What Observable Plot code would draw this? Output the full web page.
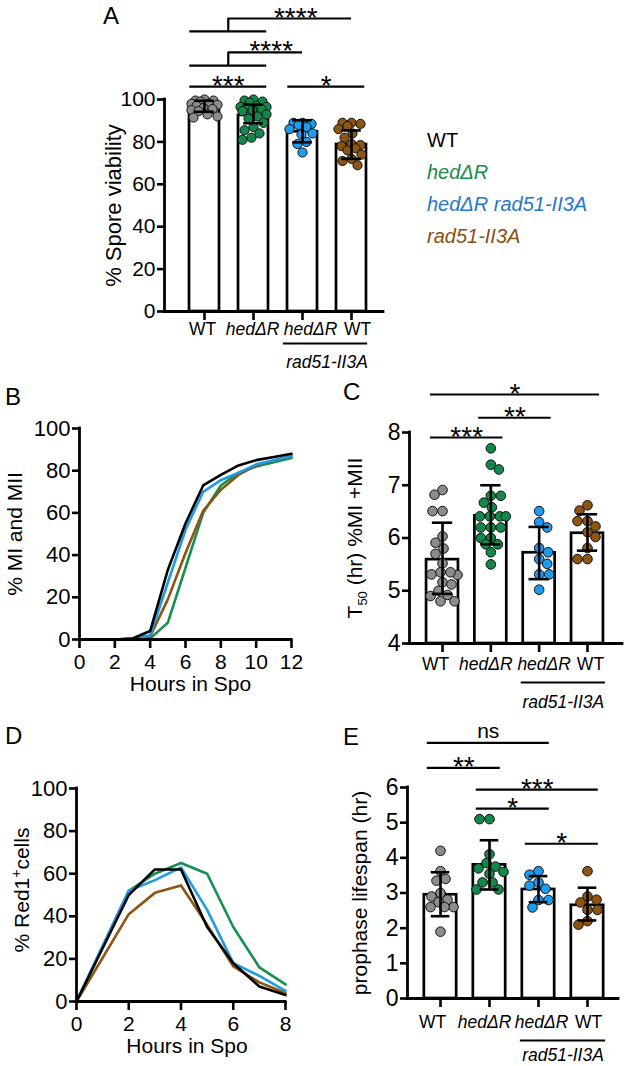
<!DOCTYPE html>
<html><head><meta charset="utf-8">
<script src="https://cdn.jsdelivr.net/npm/d3@7"></script>
<script src="https://cdn.jsdelivr.net/npm/@observablehq/plot@0.6"></script>
<style>
body{margin:0;background:#fff;}
#fig{position:relative;width:625px;height:1066px;font-family:"Liberation Sans",Arial,sans-serif;color:#000;overflow:hidden;}
.panel{position:absolute;}
.panel svg{background:transparent;overflow:visible;}
.plab{position:absolute;font-size:24px;line-height:24px;}
#legend{position:absolute;left:427px;top:124px;font-size:20px;line-height:32px;white-space:nowrap;}
#legend .it{font-style:italic;}
</style></head><body><div id="fig"></div>
<script>
// ---------------- data ----------------
const strains = ["WT", "hedΔR", "hedΔR rad51-II3A", "rad51-II3A"];
const legendItalic = [false, true, true, true];
const dotColors = ["#8c8c8c", "#12894a", "#1c9cf0", "#8e5510"];
const legendColors = ["#000000", "#1b8a4c", "#1f78c8", "#8a4f12"];
const lineColors = ["#000000", "#169050", "#1f9ae6", "#8b5512"];
const tickLabels = ["WT", "hedΔR", "hedΔR", "WT"];
const tickItalic = [false, true, true, false];
const subLabel = "rad51-II3A";

// A: spore viability
const viabWT = [100, 99.5, 99.5, 99, 98, 98, 97.5, 97, 96, 95.5, 95, 94.5, 93, 92, 91.5];
const viabHed = [100, 99.5, 99, 98.5, 97, 96.5, 96.5, 96, 95.5, 95, 94.5, 93, 92, 91, 89, 87, 85.5, 84, 82, 81];
const viabHedRad = [89, 89, 88.5, 88, 87, 86, 84, 83.5, 80, 79, 75];
const viabRad = [89, 89, 88.5, 87.5, 86, 84, 82, 79, 78.5, 78, 77, 76, 74, 72, 71, 69];
const viabMean = [96.8, 92.5, 84.8, 78.8];
const viabLo = [94.2, 88.8, 79.8, 72.0];
const viabHi = [99.4, 97.6, 90.2, 85.4];
const viabTicks = [0, 20, 40, 60, 80, 100];
const viabLabel = "% Spore viability";
const sigA = [
  {a: 0, b: 1, label: "***"},
  {a: 2, b: 3, label: "*"},
  {group: [0, 1], to: 2, label: "****"},
  {group: [0, 1], to: 3, label: "****"}
];

// B: % MI and MII
const hoursB = [0, 1, 2, 3, 4, 5, 6, 7, 8, 9, 10, 11, 12];
const miWT = [0, 0, 0, 0.5, 4, 33, 55, 73, 78, 82.5, 85, 86.5, 88];
const miHed = [0, 0, 0, 0, 0.5, 8, 34, 60, 73, 79, 82, 84, 86];
const miHedRad = [0, 0, 0, 0.3, 2, 27, 52, 70, 75.5, 79, 83, 85, 87];
const miRad = [0, 0, 0, 0.5, 1.5, 19, 41, 61, 71, 78, 82.5, 85, 87];
const hoursBTicks = [0, 2, 4, 6, 8, 10, 12];
const pctTicks = [0, 20, 40, 60, 80, 100];
const miLabel = "% MI and MII";
const hoursLabel = "Hours in Spo";

// C: T50
const t50WT = [6.91, 6.82, 6.51, 6.51, 6.03, 5.91, 5.8, 5.7, 5.52, 5.31, 5.3, 5.35, 5.35, 5.16, 5.12, 5.0, 4.92, 4.9, 4.8, 4.8];
const t50Hed = [7.7, 7.39, 7.3, 6.8, 6.8, 6.67, 6.58, 6.41, 6.41, 6.41, 6.41, 6.2, 6.2, 6.2, 6.0, 6.0, 5.88, 5.88, 5.73, 5.5];
const t50HedRad = [6.51, 6.3, 6.2, 5.81, 5.73, 5.6, 5.51, 5.31, 5.31, 5.02];
const t50Rad = [6.62, 6.52, 6.32, 6.32, 6.22, 6.11, 6.02, 5.81, 5.6, 5.6];
const t50Mean = [5.59, 6.42, 5.72, 6.09];
const t50Lo = [4.94, 5.88, 5.22, 5.76];
const t50Hi = [6.29, 7.0, 6.21, 6.45];
const t50Ticks = [4, 5, 6, 7, 8];
const t50Label = "T50 (hr) %MI +MII";
const sigC = [
  {a: 0, b: 3, label: "*"},
  {a: 1, b: 2, label: "**"},
  {a: 0, b: 1, label: "***"}
];

// D: % Red1+ cells
const hoursD = [0, 2, 3, 4, 5, 6, 7, 8];
const redWT = [0, 50, 62, 62, 35, 18, 7, 3];
const redHed = [0, 52, 60, 65, 60, 35, 16, 8];
const redHedRad = [0, 52, 57, 63, 43, 18, 12, 5];
const redRad = [0, 41, 51, 54.5, 36, 16.5, 9, 4];
const hoursDTicks = [0, 2, 4, 6, 8];
const redLabel = "% Red1+cells";

// E: prophase lifespan
const lifeWT = [4.2, 3.62, 3.4, 3.35, 3.0, 2.9, 2.81, 2.74, 2.6, 2.6, 2.6, 1.9];
const lifeHed = [5.1, 5.1, 4.1, 3.85, 3.75, 3.7, 3.6, 3.55, 3.3, 3.3, 3.1, 3.1];
const lifeHedRad = [3.62, 3.52, 3.3, 3.21, 3.12, 2.8, 2.8, 2.59];
const lifeRad = [3.62, 2.9, 2.81, 2.73, 2.52, 2.52, 2.2, 2.1];
const lifeMean = [2.95, 3.8, 3.1, 2.65];
const lifeLo = [2.34, 3.1, 2.74, 2.22];
const lifeHi = [3.59, 4.5, 3.48, 3.15];
const lifeTicks = [0, 1, 2, 3, 4, 5, 6];
const lifeLabel = "prophase lifespan (hr)";
const sigE = [
  {a: 0, b: 2, label: "ns"},
  {a: 0, b: 1, label: "**"},
  {a: 1, b: 3, label: "***"},
  {a: 1, b: 2, label: "*"},
  {a: 2, b: 3, label: "*"}
];

// ---------------- layout ----------------
const FONT = "Liberation Sans, Arial, Helvetica, sans-serif";
const fig = document.getElementById("fig");
const intFmt = d3.format("d");

function place(el, left, top) {
  const d = document.createElement("div");
  d.className = "panel";
  d.style.left = left + "px"; d.style.top = top + "px";
  d.appendChild(el); fig.appendChild(d);
}

function swarm(values, yPix, r, maxW) {
  const order = values.map((v, i) => i).sort((a, b) => values[b] - values[a]);
  const placed = [], off = new Array(values.length);
  order.forEach((i, n) => {
    const py = yPix(values[i]);
    const cands = [0];
    for (let k = 1; k <= maxW; k++) { if (n % 2) cands.push(-k, k); else cands.push(k, -k); }
    let chosen = null, best = 0, bestScore = -1;
    for (const c of cands) {
      let md = Infinity;
      for (const p of placed) { const d = Math.hypot(p.x - c, p.y - py); if (d < md) md = d; }
      if (md >= 2 * r * 0.95) { chosen = c; break; }
      if (md > bestScore) { bestScore = md; best = c; }
    }
    if (chosen === null) chosen = best;
    placed.push({x: chosen, y: py}); off[i] = chosen;
  });
  return off;
}

function rebuild(t, parts) {
  t.textContent = "";
  parts.forEach(([s, dy, fs]) => {
    const ts = document.createElementNS("http://www.w3.org/2000/svg", "tspan");
    ts.textContent = s; if (dy) ts.setAttribute("dy", dy); if (fs) ts.setAttribute("font-size", fs);
    t.appendChild(ts);
  });
}
function fixSupSub(svg) {
  svg.querySelectorAll("text").forEach(t => {
    if (t.textContent === t50Label) rebuild(t, [["T", 0, null], ["50", 5, "13px"], [" (hr) %MI +MII", -5, null]]);
    else if (t.textContent === redLabel) rebuild(t, [["% Red1", 0, null], ["+", -8, "14px"], ["cells", 8, null]]);
  });
}

function barPanel(c) {
  const yPix = d3.scaleLinear().domain(c.yDomain).range([c.height - c.mB, c.mT]);
  const xPix = d3.scaleLinear().domain(c.xDomain).range([c.mL, c.width - c.mR]);
  const step = xPix(1) - xPix(0);
  const ymin = c.yDomain[0];
  const rows = [];
  c.dots.forEach((arr, g) => {
    const off = swarm(arr, yPix, c.r, c.maxW);
    arr.forEach((v, j) => rows.push({g, v, x: g + off[j] / step, fill: dotColors[g]}));
  });
  const bars = strains.map((s, i) => ({i, m: c.mean[i], lo: c.lo[i], hi: c.hi[i]}));
  const lines = [], verts = [], labels = [];
  c.sig.forEach((s, k) => {
    const lv = c.levels[k];
    if (s.group) {
      const x1 = s.group[0] + c.sigL, x2 = s.group[s.group.length - 1] + c.sigR;
      const vx = (x1 + x2) / 2;
      lines.push({x1, x2, y: lv[0]});
      verts.push({x: vx, y1: lv[0], y2: lv[1]});
      lines.push({x1: vx, x2: s.to, y: lv[1]});
      labels.push({x: (vx + s.to) / 2 + c.groupLabelDx, y: lv[1], label: s.label});
    } else {
      const x1 = s.a + c.sigL, x2 = s.b + c.sigR;
      lines.push({x1, x2, y: lv});
      labels.push({x: (x1 + x2) / 2, y: lv, label: s.label});
    }
  });
  const tl = tickLabels.map((t, i) => ({i, x: i + c.labelShift[i] / step, t, it: tickItalic[i]}));
  const plot = Plot.plot({
    width: c.width, height: c.height,
    marginLeft: c.mL, marginRight: c.mR, marginTop: c.mT, marginBottom: c.mB,
    x: {type: "linear", domain: c.xDomain},
    y: {domain: c.yDomain},
    color: {type: "identity"},
    style: {fontFamily: FONT, color: "#000", background: "transparent", overflow: "visible"},
    marks: [
      Plot.rect(bars, {x1: d => d.i - c.bw, x2: d => d.i + c.bw, y1: ymin, y2: "m", fill: "white", stroke: "black", strokeWidth: 2.7}),
      Plot.dot(rows, {x: "x", y: "v", r: c.r, fill: "fill", stroke: "#111", strokeWidth: 1}),
      Plot.ruleX(bars, {x: "i", y1: "lo", y2: "hi", stroke: "black", strokeWidth: 2.6}),
      Plot.ruleY(bars, {y: "hi", x1: d => d.i - c.cw, x2: d => d.i + c.cw, stroke: "black", strokeWidth: 2.6}),
      Plot.ruleY(bars, {y: "lo", x1: d => d.i - c.cw, x2: d => d.i + c.cw, stroke: "black", strokeWidth: 2.6}),
      Plot.ruleX([c.xDomain[0]], {y1: c.yDomain[0], y2: c.yDomain[1], stroke: "black", strokeWidth: 2.8, strokeLinecap: "square"}),
      Plot.ruleY([ymin], {stroke: "black", strokeWidth: 2.8, strokeLinecap: "square"}),
      Plot.axisY({ticks: c.yTicks, tickFormat: intFmt, tickSize: 7, tickPadding: 2, fontSize: c.tickFs, strokeWidth: 2.6, label: null}),
      Plot.axisX({ticks: [0, 1, 2, 3], tickSize: 9, tickFormat: () => "", strokeWidth: 2.6, label: null}),
      Plot.text(tl.filter(d => !d.it), {x: "x", y: ymin, text: "t", dy: c.tickDy, lineAnchor: "top", fontSize: 17.5}),
      Plot.text(tl.filter(d => d.it), {x: "x", y: ymin, text: "t", dy: c.tickDy, lineAnchor: "top", fontSize: 17.5, fontStyle: "italic"}),
      Plot.ruleY([ymin], {x1: 2 + c.underL, x2: 3 + c.underR, dy: c.underDy, stroke: "black", strokeWidth: 2}),
      Plot.text([subLabel], {x: 2.5 + c.subShift / step, y: ymin, dy: c.subDy, lineAnchor: "top", fontSize: 17.5, fontStyle: "italic"}),
      Plot.ruleY(lines, {x1: "x1", x2: "x2", y: "y", stroke: "black", strokeWidth: 2.2}),
      Plot.ruleX(verts, {x: "x", y1: "y1", y2: "y2", stroke: "black", strokeWidth: 2.2}),
      Plot.text(labels.filter(d => d.label !== "ns"), {x: "x", y: "y", text: "label", lineAnchor: "bottom", dy: 8, fontSize: 28}),
      Plot.text(labels.filter(d => d.label === "ns"), {x: "x", y: "y", text: "label", lineAnchor: "bottom", dy: -5, fontSize: 21}),
      Plot.text([c.ylabel], {frameAnchor: "left", rotate: -90, dx: c.ylabelDx, dy: c.ylabelDy || 0, fontSize: c.ylabelFs, textAnchor: "middle"})
    ]
  });
  fixSupSub(plot);
  place(plot, c.left, c.top);
}

function linePanel(c) {
  const rows = [];
  c.series.forEach((arr, g) => arr.forEach((v, j) => rows.push({g, h: c.hours[j], v, stroke: lineColors[g]})));
  const plot = Plot.plot({
    width: c.width, height: c.height,
    marginLeft: c.mL, marginRight: c.mR, marginTop: c.mT, marginBottom: c.mB,
    x: {domain: c.xDomain},
    y: {domain: [0, 100]},
    color: {type: "identity"},
    style: {fontFamily: FONT, color: "#000", background: "transparent", overflow: "visible"},
    marks: [
      ...c.order.map(g => Plot.line(rows.filter(d => d.g === g), {x: "h", y: "v", stroke: "stroke", strokeWidth: 2.6})),
      Plot.ruleX([c.xDomain[0]], {stroke: "black", strokeWidth: 2.8, strokeLinecap: "square"}),
      Plot.ruleY([0], {stroke: "black", strokeWidth: 2.8, strokeLinecap: "square"}),
      Plot.axisY({ticks: pctTicks, tickFormat: intFmt, tickSize: 7, tickPadding: 2, fontSize: 22, strokeWidth: 2.6, label: null}),
      Plot.axisX({ticks: c.xTicks, tickFormat: intFmt, tickSize: 9, tickPadding: 6, fontSize: 21, strokeWidth: 2.6, label: null}),
      Plot.text([hoursLabel], {frameAnchor: "bottom", dy: c.xlabelDy, dx: c.xlabelDx, fontSize: 21}),
      Plot.text([c.ylabel], {frameAnchor: "left", rotate: -90, dx: c.ylabelDx, dy: c.ylabelDy || 0, fontSize: 21, textAnchor: "middle"})
    ]
  });
  fixSupSub(plot);
  place(plot, c.left, c.top);
}

// Panel A
barPanel({
  left: 90, top: 0, width: 300, height: 370, mL: 74, mR: 7, mT: 99, mB: 59,
  xDomain: [-40 / 49, 3 + 32 / 49], yDomain: [0, 100], yTicks: viabTicks, tickFs: 21,
  dots: [viabWT, viabHed, viabHedRad, viabRad], mean: viabMean, lo: viabLo, hi: viabHi,
  r: 4.6, maxW: 13, bw: 0.306, cw: 0.2,
  sig: sigA, levels: [106.1, 106.1, [116, 122.2], [132.1, 138.2]], sigL: -0.3, sigR: 0.27, groupLabelDx: 0.12,
  tickDy: 11, labelShift: [-2, -1, 8, 6], underDy: 32, underL: -0.39, underR: 0.33, subDy: 44, subShift: 0,
  ylabel: viabLabel, ylabelDx: -51, ylabelFs: 22
});

// Panel C
barPanel({
  left: 310, top: 375, width: 315, height: 335, mL: 99, mR: 3, mT: 57, mB: 67,
  xDomain: [-33 / 48.3, 3 + 35 / 48.3], yDomain: [4, 8], yTicks: t50Ticks, tickFs: 23,
  dots: [t50WT, t50Hed, t50HedRad, t50Rad], mean: t50Mean, lo: t50Lo, hi: t50Hi,
  r: 4.8, maxW: 15, bw: 0.33, cw: 0.21,
  sig: sigC, levels: [8.72, 8.28, 7.905], sigL: -0.25, sigR: 0.25, groupLabelDx: 0,
  tickDy: 14, labelShift: [-7, -5, 5, 3], underDy: 39, underL: -0.37, underR: 0.37, subDy: 52, subShift: 0,
  ylabel: t50Label, ylabelDx: -54, ylabelFs: 21
});

// Panel E
barPanel({
  left: 310, top: 710, width: 315, height: 356, mL: 97, mR: 7, mT: 77, mB: 68,
  xDomain: [-33 / 49, 3 + 31 / 49], yDomain: [0, 6], yTicks: lifeTicks, tickFs: 23,
  dots: [lifeWT, lifeHed, lifeHedRad, lifeRad], mean: lifeMean, lo: lifeLo, hi: lifeHi,
  r: 4.8, maxW: 15, bw: 0.33, cw: 0.19,
  sig: sigE, levels: [7.27, 6.56, 5.94, 5.40, 4.40], sigL: -0.27, sigR: 0.22, groupLabelDx: 0,
  tickDy: 17, labelShift: [-8, -5, 3, 1], underDy: 42, underL: -0.37, underR: 0.37, subDy: 50, subShift: 0,
  ylabel: lifeLabel, ylabelDx: -47, ylabelFs: 21
});

// Panel B
linePanel({
  left: 0, top: 375, width: 305, height: 325, mL: 79, mR: 14, mT: 53, mB: 61,
  xDomain: [0, 12], xTicks: hoursBTicks, hours: hoursB,
  series: [miWT, miHed, miHedRad, miRad], order: [1, 3, 2, 0],
  xlabelDy: 51, xlabelDx: 5, ylabel: miLabel, ylabelDx: -64
});

// Panel D
linePanel({
  left: 0, top: 700, width: 305, height: 366, mL: 76, mR: 20, mT: 88, mB: 65,
  xDomain: [0, 8], xTicks: hoursDTicks, hours: hoursD,
  series: [redWT, redHed, redHedRad, redRad], order: [3, 1, 2, 0],
  xlabelDy: 51, xlabelDx: 6, ylabel: redLabel, ylabelDx: -54, ylabelDy: -5
});

// panel letters
[["A", 103, 4], ["B", 5, 385], ["C", 343, 380], ["D", 5, 724], ["E", 343, 725]].forEach(([t, l, tp]) => {
  const d = document.createElement("div"); d.className = "plab"; d.textContent = t;
  d.style.left = l + "px"; d.style.top = tp + "px"; fig.appendChild(d);
});

// legend
const lg = document.createElement("div"); lg.id = "legend";
strains.forEach((s, i) => {
  const row = document.createElement("div");
  row.textContent = s; row.style.color = legendColors[i];
  if (legendItalic[i]) row.className = "it";
  lg.appendChild(row);
});
fig.appendChild(lg);
</script></body></html>
